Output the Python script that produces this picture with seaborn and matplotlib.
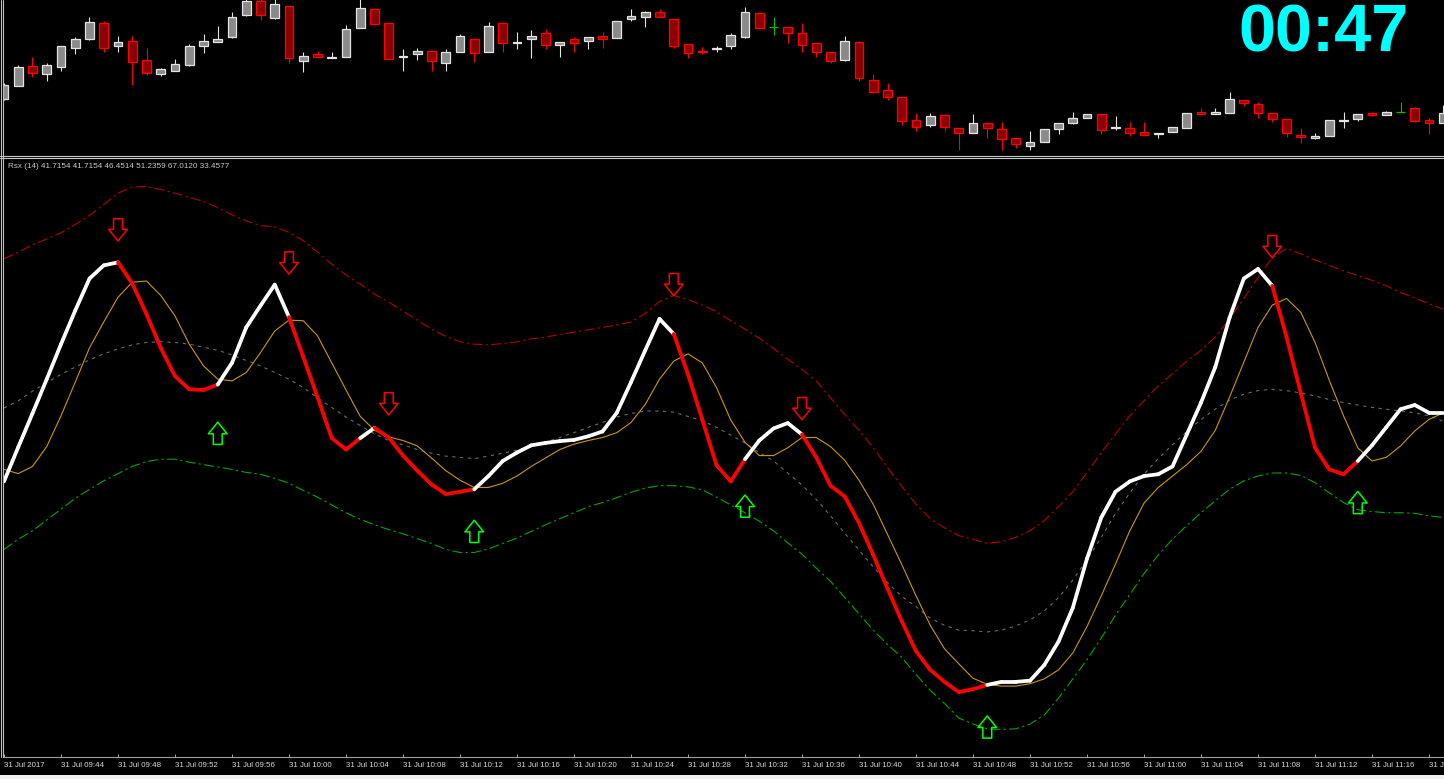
import numpy as np
import pandas as pd
import matplotlib
matplotlib.use("Agg")
import matplotlib.pyplot as plt
from matplotlib.path import Path
from matplotlib.collections import LineCollection
from matplotlib.lines import Line2D
from matplotlib.patches import Rectangle
import seaborn as sns

# M1 bars, price offsets (top pane)
opens = [61, 74, 94, 86, 93, 112, 121, 137, 114, 119,
         100, 86, 89, 95, 114, 118, 123, 145, 159, 142,
         154, 99, 106, 102, 103, 132, 151, 137, 103, 106,
         109, 97, 108, 121, 108, 137, 117, 121, 127, 115,
         121, 119, 124, 122, 141, 143, 148, 141, 116, 109,
         111, 114, 123, 147, 133, 133, 127, 117, 108, 100,
         118, 80, 70, 63, 40, 35, 45, 32, 27, 37,
         31, 22, 14, 18, 31, 37, 42, 46, 32, 32,
         28, 26, 28, 32, 48, 46, 47, 60, 56, 47,
         41, 25, 22, 24, 39, 41, 47, 45, 48, 52,
         40, 37]
highs = [77, 95, 103, 97, 114, 123, 143, 139, 124, 124,
         112, 92, 101, 116, 126, 134, 148, 162, 161, 161,
         154, 108, 109, 108, 135, 161, 152, 137, 111, 112,
         109, 111, 126, 122, 138, 137, 128, 130, 131, 118,
         123, 123, 128, 139, 151, 149, 151, 141, 116, 113,
         114, 127, 153, 148, 143, 133, 137, 117, 108, 124,
         119, 86, 77, 63, 47, 47, 46, 32, 46, 37,
         38, 22, 29, 31, 37, 48, 46, 46, 44, 38,
         38, 27, 33, 47, 52, 52, 68, 60, 58, 47,
         41, 32, 27, 40, 48, 46, 48, 49, 58, 53,
         42, 55]
lows = [60, 74, 83, 79, 89, 106, 120, 108, 108, 75,
        85, 84, 89, 94, 107, 118, 122, 144, 140, 141,
        97, 88, 103, 102, 103, 132, 136, 101, 89, 100,
        89, 89, 108, 98, 108, 108, 111, 102, 111, 103,
        108, 111, 112, 122, 139, 133, 143, 112, 102, 106,
        108, 111, 122, 132, 125, 117, 108, 103, 97, 99,
        79, 67, 60, 35, 29, 33, 29, 10, 27, 22,
        10, 12, 10, 18, 26, 36, 42, 26, 30, 24,
        25, 22, 28, 32, 46, 46, 47, 54, 42, 38,
        23, 17, 21, 24, 32, 39, 44, 45, 48, 38,
        26, 37]
closes = [75, 93, 87, 95, 114, 121, 138, 112, 118, 98,
          87, 91, 96, 114, 119, 121, 143, 159, 145, 156,
          102, 104, 103, 103, 131, 152, 136, 101, 104, 109,
          99, 108, 124, 107, 134, 117, 118, 124, 115, 118,
          117, 123, 121, 139, 144, 148, 143, 114, 107, 108,
          112, 125, 148, 132, 133, 127, 115, 108, 99, 119,
          82, 68, 63, 39, 33, 44, 33, 27, 37, 32,
          21, 16, 18, 31, 37, 42, 46, 30, 33, 27,
          25, 27, 33, 47, 46, 48, 61, 57, 47, 41,
          27, 23, 24, 40, 40, 46, 45, 48, 48, 39,
          37, 47]

# Rsx(14) pane
rsx = [46.6, 52.3, 57.9, 63.6, 69.4, 75.0, 80.3, 82.5, 83.0, 79.5,
       74.4, 68.8, 64.1, 61.9, 61.8, 62.7, 66.3, 72.2, 75.8, 79.3,
       73.9, 67.3, 60.6, 53.8, 51.9, 53.8, 55.5, 53.9, 50.9, 48.4,
       46.1, 44.5, 44.9, 45.3, 47.5, 50.0, 51.4, 52.6, 53.0, 53.3,
       53.5, 54.1, 54.9, 58.0, 63.1, 68.4, 73.6, 71.1, 64.4, 56.9,
       49.3, 46.6, 50.3, 53.4, 55.4, 56.3, 54.4, 50.6, 45.9, 44.1,
       39.7, 34.4, 28.8, 23.4, 18.4, 15.3, 13.3, 11.6, 12.1, 12.8,
       13.3, 13.3, 13.5, 16.1, 20.0, 25.6, 33.8, 40.6, 44.9, 46.6,
       47.5, 47.8, 49.1, 54.4, 59.7, 65.6, 73.8, 80.3, 81.9, 79.1,
       70.6, 61.3, 52.2, 48.6, 47.8, 50.0, 52.6, 55.6, 58.6, 59.3,
       58.0, 58.0]
# colour of the segment ending at each bar: 1 = rising (white), 0 = falling (red)
rsx_trend = ("111111111" "0000000" "11111" "00000" "1" "0000000"
             "11111111111111" "00000" "1111" "0000000000000"
             "11111111111111111111" "000000" "111111")
signal = [48.6, 47.9, 49.1, 52.4, 57.5, 63.1, 68.8, 73.1, 77.2, 79.7,
          79.9, 77.5, 74.1, 69.4, 65.8, 63.6, 63.3, 64.7, 68.0, 71.6,
          73.4, 73.3, 70.8, 66.3, 61.8, 57.4, 55.1, 54.0, 53.4, 52.5,
          50.5, 48.4, 46.8, 45.6, 45.6, 46.3, 47.5, 49.1, 50.5, 51.9,
          52.8, 53.4, 53.9, 54.7, 56.4, 59.4, 63.6, 66.6, 67.8, 66.3,
          62.2, 56.8, 53.1, 50.9, 50.9, 52.2, 53.9, 53.9, 52.4, 50.1,
          46.8, 42.8, 37.8, 32.8, 27.6, 22.7, 18.8, 16.3, 13.9, 12.9,
          12.6, 12.6, 13.0, 13.8, 15.3, 18.1, 22.5, 27.6, 32.9, 38.4,
          43.0, 45.6, 47.5, 49.4, 51.6, 55.1, 60.6, 66.4, 72.2, 75.9,
          77.0, 74.7, 69.7, 63.4, 57.5, 52.2, 50.0, 50.6, 52.5, 55.0,
          56.9, 58.0]
mid_band = [58.8, 60.0, 61.6, 63.0, 64.4, 65.6, 66.8, 67.8, 68.6, 69.3,
            69.7, 69.8, 69.7, 69.4, 68.9, 68.4, 67.6, 66.7, 65.8, 64.7,
            63.6, 62.2, 60.5, 58.9, 57.3, 55.9, 54.5, 53.4, 52.7, 51.9,
            51.3, 50.8, 50.6, 50.4, 50.8, 51.3, 51.8, 52.4, 53.1, 53.9,
            54.7, 55.6, 56.4, 57.3, 57.9, 58.3, 58.3, 58.1, 57.4, 56.7,
            55.6, 54.3, 53.0, 51.4, 50.0, 48.0, 46.0, 43.6, 40.9, 38.0,
            35.2, 32.4, 29.8, 27.5, 25.8, 23.9, 22.7, 21.9, 21.8, 21.6,
            21.9, 22.6, 23.6, 25.1, 27.3, 30.2, 33.6, 37.3, 41.3, 44.7,
            47.8, 50.4, 52.7, 54.9, 56.9, 58.6, 60.1, 61.1, 61.7, 61.9,
            61.7, 61.3, 60.8, 60.2, 59.7, 59.3, 58.9, 58.6, 58.3, 58.0,
            57.5, 56.6]
upper_band = [83.6, 84.7, 85.9, 86.9, 87.9, 89.3, 90.8, 92.6, 94.5, 95.5,
              95.6, 95.1, 94.5, 93.8, 93.1, 92.1, 90.9, 89.9, 89.1, 88.9,
              88.0, 86.6, 84.7, 82.7, 80.9, 79.4, 77.7, 76.4, 74.9, 73.4,
              71.9, 70.7, 69.8, 69.4, 69.3, 69.5, 69.8, 70.3, 70.6, 71.0,
              71.4, 71.8, 72.2, 72.6, 73.1, 74.5, 76.5, 77.5, 76.8, 75.9,
              74.8, 73.3, 71.9, 70.4, 68.7, 66.9, 65.2, 63.3, 60.5, 57.7,
              55.1, 52.2, 48.9, 45.8, 42.8, 40.4, 38.9, 37.6, 37.0, 36.3,
              36.6, 37.3, 38.4, 40.1, 42.4, 44.9, 48.1, 51.4, 54.5, 57.5,
              60.0, 62.5, 64.5, 66.6, 68.4, 70.6, 73.6, 77.0, 80.5, 83.8,
              85.3, 84.4, 83.4, 82.5, 81.6, 80.8, 80.0, 79.1, 78.0, 77.1,
              76.1, 75.2]
lower_band = [35.3, 37.0, 38.4, 40.2, 42.0, 43.8, 45.3, 46.7, 47.9, 49.1,
              49.9, 50.3, 50.3, 49.8, 49.4, 49.0, 48.6, 48.1, 47.8, 47.1,
              46.3, 45.1, 44.0, 42.7, 41.4, 40.3, 39.4, 38.6, 37.9, 37.1,
              36.3, 35.3, 34.8, 34.8, 35.4, 36.3, 37.2, 38.3, 39.4, 40.4,
              41.4, 42.4, 43.1, 43.9, 44.8, 45.5, 45.9, 45.9, 45.7, 45.2,
              44.0, 42.7, 41.4, 40.0, 38.4, 36.4, 34.5, 32.2, 30.0, 27.3,
              24.6, 21.9, 19.5, 17.4, 14.5, 11.9, 9.7, 7.3, 6.3, 5.5,
              5.4, 5.5, 6.3, 7.8, 10.6, 13.8, 17.0, 20.6, 24.4, 27.8,
              31.3, 34.4, 37.0, 39.3, 41.4, 43.4, 45.3, 46.7, 47.5, 48.0,
              48.0, 47.6, 46.4, 44.7, 43.1, 41.9, 41.6, 41.4, 41.4, 41.3,
              40.9, 40.6]

sell_bars = [8, 20, 27, 47, 56, 89]
sell_levels = [88.4, 82.9, 59.5, 79.3, 58.7, 85.6]
buy_bars = [15, 33, 52, 69, 95]
buy_levels = [54.6, 38.3, 42.5, 5.8, 43.1]

tick_bars = list(range(0, 101, 4))
tick_labels = ["31 Jul 2017", "31 Jul 09:44", "31 Jul 09:48", "31 Jul 09:52",
               "31 Jul 09:56", "31 Jul 10:00", "31 Jul 10:04", "31 Jul 10:08",
               "31 Jul 10:12", "31 Jul 10:16", "31 Jul 10:20", "31 Jul 10:24",
               "31 Jul 10:28", "31 Jul 10:32", "31 Jul 10:36", "31 Jul 10:40",
               "31 Jul 10:44", "31 Jul 10:48", "31 Jul 10:52", "31 Jul 10:56",
               "31 Jul 11:00", "31 Jul 11:04", "31 Jul 11:08", "31 Jul 11:12",
               "31 Jul 11:16", "31 Jul 11:20"]

header = "Rsx (14) 41.7154 41.7154 46.4514 51.2359 67.0120 33.4577"
clock = "00:47"

sns.set_theme(style="dark", rc={"axes.facecolor": "black", "figure.facecolor": "black",
                                "savefig.facecolor": "black"})
plt.rcParams["font.family"] = ["Liberation Sans", "DejaVu Sans"]

W, H = 1444, 779
fig = plt.figure(figsize=(W / 100, H / 100), dpi=100)


def fx(px):
    return px / W


def fy(py):
    return 1 - py / H


ax1 = fig.add_axes([fx(3), fy(155), fx(1441), 155 / H])
ax2 = fig.add_axes([fx(3), fy(757), fx(1441), (757 - 159) / H])

df = pd.DataFrame({"open": opens, "high": highs, "low": lows, "close": closes})
df["bar"] = np.arange(len(df))
up = df.close > df.open
down = df.close < df.open
flat = df.close == df.open

bull_edge, bull_fill = "#e4e4e4", "#8a8a8a"
bear_edge, bear_fill = "#ff0000", "#8b0000"
doji_col = "#00c000"

wick_cols = np.where(up, bull_edge, np.where(down, bear_edge, doji_col))
ax1.vlines(df.bar, df.low, df.high, colors=wick_cols, lw=0.8, zorder=1)
body_lo = np.minimum(df.open, df.close)
body_h = (df.close - df.open).abs()
ax1.bar(df.bar[up], body_h[up], bottom=body_lo[up], width=0.62,
        color=bull_fill, edgecolor=bull_edge, lw=0.9, zorder=2)
ax1.bar(df.bar[down], body_h[down], bottom=body_lo[down], width=0.62,
        color=bear_fill, edgecolor=bear_edge, lw=0.9, zorder=2)
ax1.hlines(df.close[flat], df.bar[flat] - 0.32, df.bar[flat] + 0.32,
           colors=doji_col, lw=0.9, zorder=2)

xlim = (-0.07, 101.05)
ax1.set_xlim(*xlim)
ax1.set_ylim(5, 160)
ax1.set_xticks([])
ax1.set_yticks([])
for s in ax1.spines.values():
    s.set_visible(False)

# indicator pane
bars = np.arange(len(rsx))
sns.lineplot(x=bars, y=upper_band, ax=ax2, color="#b40000", lw=0.8,
             linestyle=(0, (9, 3, 2, 3)), zorder=2)
sns.lineplot(x=bars, y=lower_band, ax=ax2, color="#00a800", lw=0.8,
             linestyle=(0, (9, 3, 2, 3)), zorder=2)
sns.lineplot(x=bars, y=mid_band, ax=ax2, color="#6a6a6a", lw=0.8,
             linestyle=(0, (3, 4)), zorder=2)
sns.lineplot(x=bars, y=signal, ax=ax2, color="#c89b00", lw=0.8, zorder=3)

pts = np.column_stack([bars, rsx])
segs = np.stack([pts[:-1], pts[1:]], axis=1)
seg_cols = ["#ffffff" if t == "1" else "#ff0000" for t in rsx_trend[1:]]
ax2.add_collection(LineCollection(segs, colors=seg_cols, linewidths=2.7,
                                  capstyle="round", joinstyle="round", zorder=4))

down_arrow = Path([(-0.2, 0.5), (0.2, 0.5), (0.2, 0.02), (0.42, 0.02), (0, -0.5),
                   (-0.42, 0.02), (-0.2, 0.02), (-0.2, 0.5)], closed=True)
up_arrow = Path([(x, -y) for x, y in down_arrow.vertices], closed=True)
ax2.scatter(sell_bars, sell_levels, marker=down_arrow, s=16 ** 2, facecolors="none",
            edgecolors="#ff0000", linewidths=1.1, zorder=5)
ax2.scatter(buy_bars, buy_levels, marker=up_arrow, s=16 ** 2, facecolors="none",
            edgecolors="#00ff00", linewidths=1.1, zorder=5)

ax2.set_xlim(*xlim)
ax2.set_ylim(0.82, 100.17)
ax2.set_yticks([])
ax2.set_xticks(tick_bars)
ax2.set_xticklabels(tick_labels, fontsize=5.7, color="#d8d8d8", ha="left")
ax2.tick_params(axis="x", direction="in", length=2.5, width=0.7, color="#a8a8a8",
                pad=3.5, bottom=True)
ax2.set_xlabel("")
ax2.set_ylabel("")
ax2.grid(False)
for name, s in ax2.spines.items():
    s.set_visible(name == "bottom")
ax2.spines["bottom"].set_color("#a0a0a0")
ax2.spines["bottom"].set_linewidth(0.8)

# window frame
for xpx in (1.0, 3.2):
    fig.add_artist(Line2D([fx(xpx)] * 2, [fy(0), fy(757)], color="#bdbdbd", lw=0.8))
for ypx in (155.8, 158.4):
    fig.add_artist(Line2D([fx(0), 1], [fy(ypx)] * 2, color="#c8c8c8", lw=0.8))
fig.add_artist(Rectangle((0, 0), 1, 4 / H, transform=fig.transFigure,
                         color="#f0f0f0", lw=0))

fig.text(fx(8), fy(166), header, color="#c8c8c8", fontsize=5.9, va="center", ha="left")
fig.text(fx(1409), fy(52), clock, color="#00ffff", fontsize=48, fontweight="bold",
         ha="right", va="baseline")

fig.savefig("out.png", dpi=100)
